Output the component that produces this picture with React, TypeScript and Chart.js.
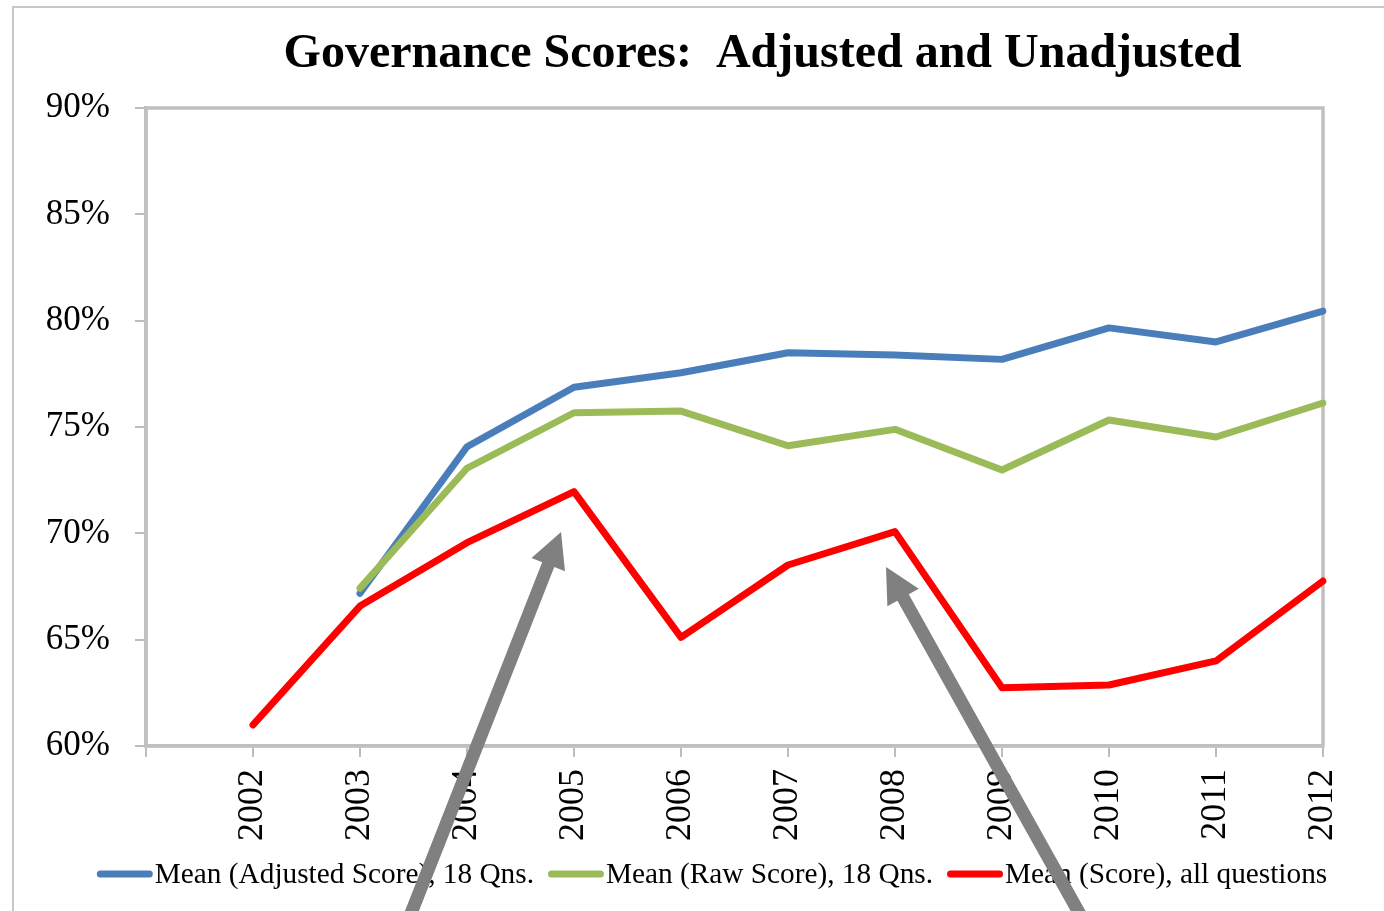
import { useEffect, useRef } from "react";
import { Chart, registerables } from "chart.js";

Chart.register(...registerables);

// ---- data ----
const categories = ["", "2002", "2003", "2004", "2005", "2006", "2007", "2008", "2009", "2010", "2011", "2012"];
const adjustedScore = [null, null, 67.18, 74.07, 76.87, 77.55, 78.49, 78.39, 78.18, 79.66, 79.0, 80.45];
const rawScore = [null, null, 67.42, 73.06, 75.67, 75.75, 74.12, 74.89, 72.98, 75.33, 74.53, 76.13];
const allQuestions = [null, 60.99, 66.58, 69.56, 71.96, 65.11, 68.51, 70.08, 62.74, 62.87, 64.0, 67.76];
const seriesLabels = [
  "Mean (Adjusted Score), 18 Qns.",
  "Mean (Raw Score), 18 Qns.",
  "Mean (Score), all questions",
];
const yMin = 60;
const yMax = 90;
const yStep = 5;
const titleText = "Governance Scores:  Adjusted and Unadjusted";
// arrow annotations in data units: [category index, value]
const arrowTails = [[2.31, 50], [8.96, 50]];
const arrowTips = [[3.879, 70.06], [6.916, 68.42]];

const SERIF = "'Liberation Serif', 'Times New Roman', serif";

const decorPlugin = {
  id: "decor",
  beforeDraw(chart: any) {
    const ctx = chart.ctx;
    ctx.save();
    ctx.fillStyle = "#ffffff";
    ctx.fillRect(0, 0, chart.width, chart.height);
    ctx.strokeStyle = "#c8c8c8";
    ctx.lineWidth = 2;
    ctx.strokeRect(13, 7, chart.width + 100, chart.height + 100);
    ctx.restore();
  },
  beforeDatasetsDraw(chart: any) {
    const { ctx, chartArea: a } = chart;
    ctx.save();
    ctx.strokeStyle = "#c0c0c0";
    ctx.lineWidth = 3.5;
    ctx.strokeRect(a.left, a.top, a.right - a.left, a.bottom - a.top);
    ctx.restore();
  },
  afterDraw(chart: any) {
    const ctx = chart.ctx;
    // legend
    ctx.save();
    ctx.font = "29.3px " + SERIF;
    ctx.textBaseline = "middle";
    ctx.textAlign = "left";
    const lineW = 56;
    const gapAfterLine = 2;
    const gapItems = 14;
    const items = chart.data.datasets.map((ds: any) => ({
      label: ds.label,
      color: ds.borderColor,
      w: ctx.measureText(ds.label).width,
    }));
    let total = 0;
    items.forEach((it: any, i: number) => {
      total += lineW + gapAfterLine + it.w + (i < items.length - 1 ? gapItems : 0);
    });
    const centerX = 712;
    const ly = 875;
    let x = centerX - total / 2;
    items.forEach((it: any) => {
      ctx.strokeStyle = it.color;
      ctx.lineWidth = 7;
      ctx.lineCap = "round";
      ctx.beginPath();
      ctx.moveTo(x + 3.5, ly - 1);
      ctx.lineTo(x + lineW - 3.5, ly - 1);
      ctx.stroke();
      ctx.fillStyle = "#000";
      ctx.fillText(it.label, x + lineW + gapAfterLine, ly);
      x += lineW + gapAfterLine + it.w + gapItems;
    });
    ctx.restore();

    // arrows
    const xs = chart.scales.x;
    const ys = chart.scales.y;
    ctx.save();
    ctx.fillStyle = "#808080";
    arrowTips.forEach((tip, i) => {
      const tail = arrowTails[i];
      const tx = xs.getPixelForValue(tip[0]);
      const ty = ys.getPixelForValue(tip[1]);
      const sx = xs.getPixelForValue(tail[0]);
      const sy = ys.getPixelForValue(tail[1]);
      const dx = sx - tx;
      const dy = sy - ty;
      const len = Math.hypot(dx, dy);
      const ux = dx / len;
      const uy = dy / len;
      const px = -uy;
      const py = ux;
      const headLen = 35;
      const headHalf = 18;
      const shaftHalf = 6.5;
      const bx = tx + ux * headLen;
      const by = ty + uy * headLen;
      ctx.beginPath();
      ctx.moveTo(tx, ty);
      ctx.lineTo(bx + px * headHalf, by + py * headHalf);
      ctx.lineTo(bx + px * shaftHalf, by + py * shaftHalf);
      ctx.lineTo(sx + px * shaftHalf, sy + py * shaftHalf);
      ctx.lineTo(sx - px * shaftHalf, sy - py * shaftHalf);
      ctx.lineTo(bx - px * shaftHalf, by - py * shaftHalf);
      ctx.lineTo(bx - px * headHalf, by - py * headHalf);
      ctx.closePath();
      ctx.fill();
    });
    ctx.restore();
  },
};

export default function App() {
  const ref = useRef<HTMLCanvasElement>(null);
  useEffect(() => {
    document.body.style.margin = "0";
    const lineDs = (label: string, data: (number | null)[], color: string, order: number) => ({
      label,
      data,
      borderColor: color,
      backgroundColor: color,
      borderWidth: 7,
      pointRadius: 0,
      pointHoverRadius: 0,
      borderCapStyle: "round",
      borderJoinStyle: "round",
      tension: 0,
      order,
    });
    const chart = new Chart(ref.current as HTMLCanvasElement, {
      type: "line",
      data: {
        labels: categories,
        datasets: [
          lineDs(seriesLabels[0], adjustedScore, "#4a7ebb", 3),
          lineDs(seriesLabels[1], rawScore, "#9bbb59", 2),
          lineDs(seriesLabels[2], allQuestions, "#ff0000", 1),
        ],
      },
      options: {
        responsive: false,
        animation: false,
        devicePixelRatio: 1,
        layout: { padding: 0 },
        plugins: {
          legend: { display: false },
          tooltip: { enabled: false },
          title: {
            display: true,
            text: titleText,
            color: "#000",
            font: { family: SERIF, size: 48, weight: "bold", lineHeight: 1.2 },
            padding: { top: 26, bottom: 24.4 },
          },
        },
        scales: {
          x: {
            type: "category",
            offset: false,
            grid: {
              drawOnChartArea: false,
              drawTicks: true,
              tickLength: 11,
              tickColor: "#bdbdbd",
              lineWidth: 2,
            },
            border: { display: true, color: "#c0c0c0", width: 3.5 },
            ticks: {
              autoSkip: false,
              minRotation: 90,
              maxRotation: 90,
              padding: 12,
              color: "#000",
              font: { family: SERIF, size: 36 },
            },
            afterFit: (s: any) => {
              s.height = 165;
            },
          },
          y: {
            type: "linear",
            position: "left",
            min: yMin,
            max: yMax,
            grid: {
              drawOnChartArea: false,
              drawTicks: true,
              tickLength: 11,
              tickColor: "#bdbdbd",
              lineWidth: 2,
            },
            border: { display: true, color: "#c0c0c0", width: 3.5 },
            ticks: {
              stepSize: yStep,
              padding: 25,
              color: "#000",
              font: { family: SERIF, size: 35 },
              callback: (v: any) => v + "%",
            },
            afterFit: (s: any) => {
              s.width = 146;
            },
          },
          y2: {
            type: "linear",
            position: "right",
            display: true,
            grid: { display: false, drawTicks: false },
            border: { display: false },
            ticks: { display: false },
            afterFit: (s: any) => {
              s.width = 202;
            },
          },
        },
      },
      plugins: [decorPlugin],
    } as any);
    return () => chart.destroy();
  }, []);
  return (
    <div
      style={{
        position: "absolute",
        left: 0,
        top: 0,
        width: 1384,
        height: 911,
        overflow: "hidden",
        background: "#fff",
      }}
    >
      <canvas ref={ref} width={1525} height={911} style={{ width: 1525, height: 911, display: "block" }} />
    </div>
  );
}
